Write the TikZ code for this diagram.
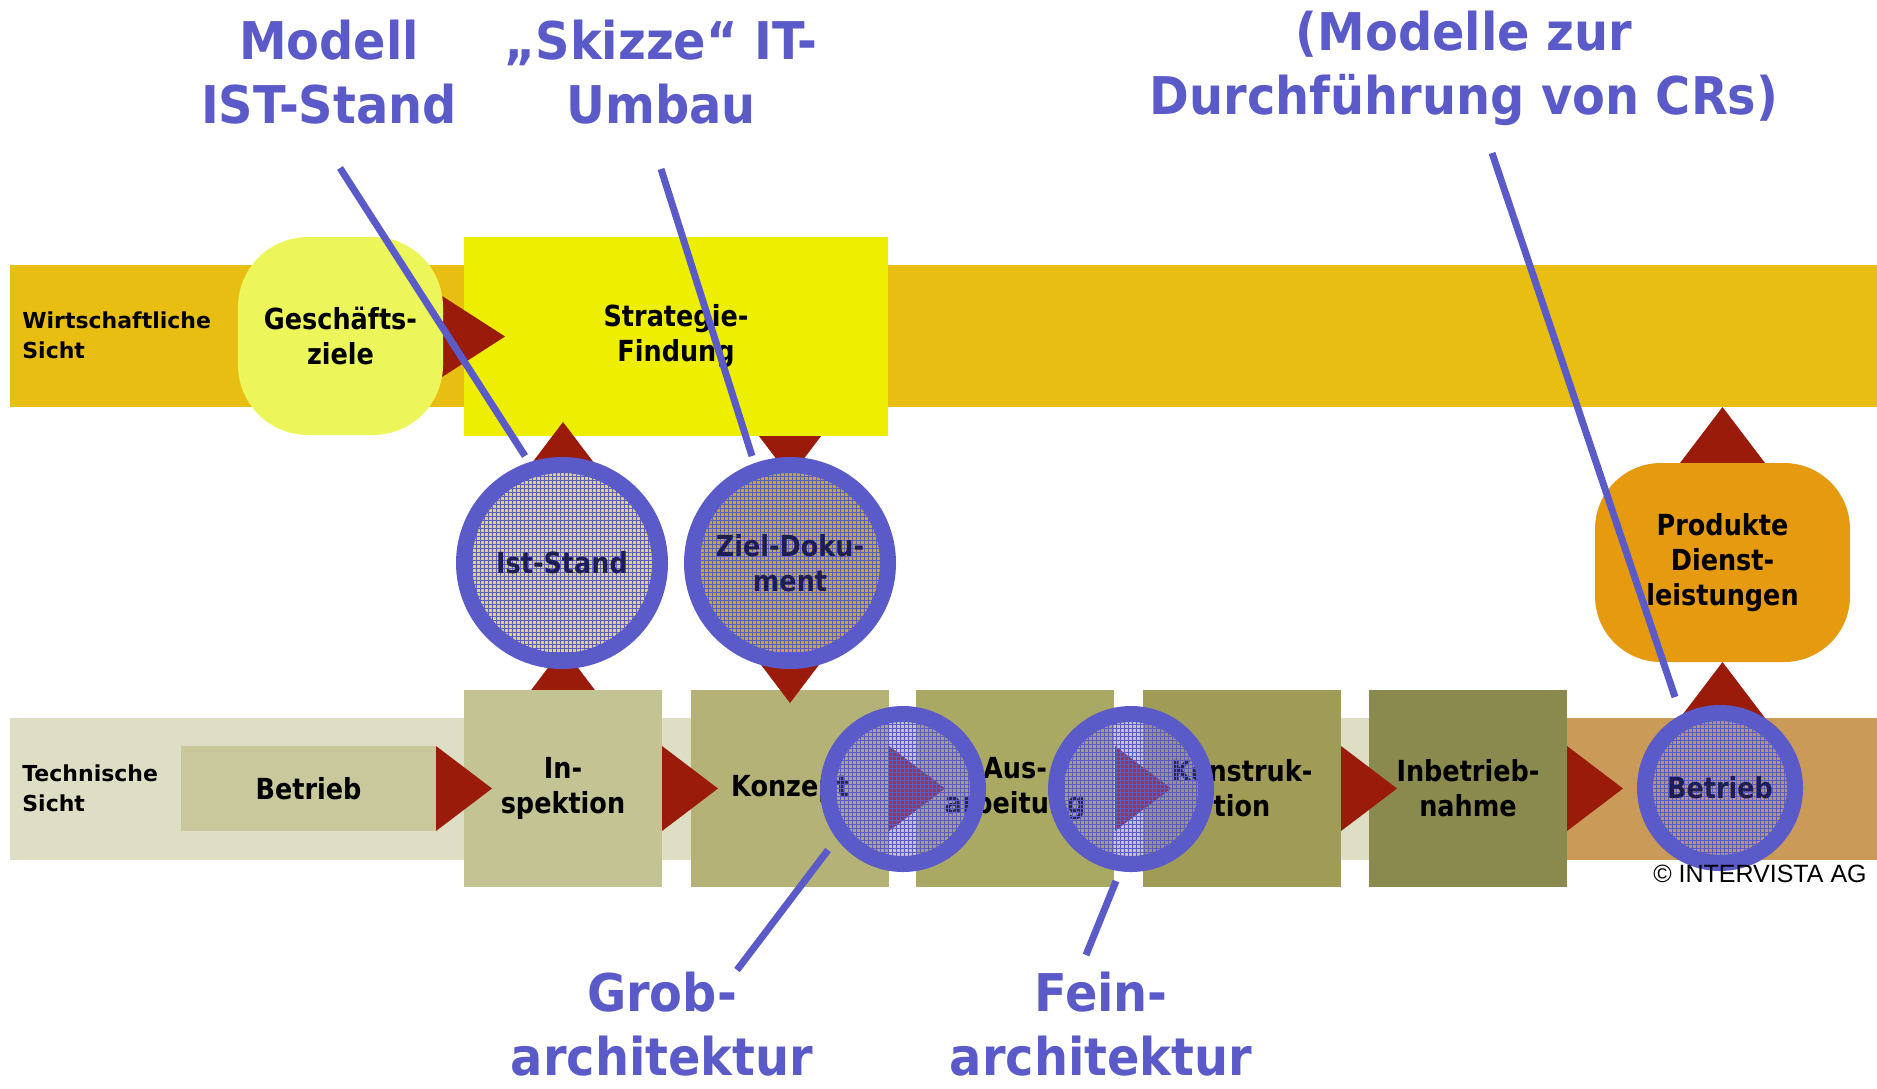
\documentclass[tikz,border=0pt]{standalone}
\usepackage{fontspec}
\setmainfont{DejaVu Sans}[FakeStretch=0.88]
\newfontfamily\sidefam{DejaVu Sans}
\newfontfamily\bigfam{DejaVu Sans}[FakeStretch=0.92]
\newfontfamily\copyfam{Liberation Sans}
\usepackage{xcolor}
\usepackage{tikz}
\usetikzlibrary{patterns.meta}

\definecolor{topband}{RGB}{232,190,18}
\definecolor{botband}{RGB}{222,222,196}
\definecolor{tanband}{RGB}{202,154,88}
\definecolor{zielecol}{RGB}{236,246,90}
\definecolor{stratcol}{RGB}{238,238,0}
\definecolor{betrcol}{RGB}{200,200,156}
\definecolor{inspcol}{RGB}{196,195,148}
\definecolor{konzcol}{RGB}{180,178,119}
\definecolor{auscol}{RGB}{170,169,100}
\definecolor{konstcol}{RGB}{160,156,88}
\definecolor{inbcol}{RGB}{139,138,78}
\definecolor{prodcol}{RGB}{229,154,16}
\definecolor{arrowred}{RGB}{155,27,10}
\definecolor{lensblue}{RGB}{90,90,200}
\definecolor{lensnavy}{RGB}{30,30,85}
\definecolor{iststand}{RGB}{215,215,115}
\definecolor{zieldoc}{RGB}{195,168,50}
\definecolor{lensgray}{RGB}{140,140,175}

\newcommand\stagefont{\bfseries\fontsize{14.5}{17.5}\selectfont}
\newcommand\sidefont{\sidefam\bfseries\fontsize{11}{15}\selectfont}
\newcommand\calloutfont{\bigfam\bfseries\fontsize{26}{32}\selectfont}

\tikzset{
  stage/.style={rectangle, inner sep=0pt, minimum width=99pt, minimum height=98.5pt, align=center, font=\stagefont},
  lens/.style={circle, draw=lensblue, line width=8pt, inner sep=0pt, text=lensnavy, align=center, font=\stagefont,
    preaction={fill=#1},
    preaction={pattern={Hatch[distance=2pt, line width=.35pt]}, pattern color=lensblue, fill opacity=.5}},
  side/.style={anchor=west, inner sep=0pt, align=left, font=\sidefont},
  tri/.style={fill=arrowred},
  callout/.style={draw=lensblue, line width=3.5pt},
  bigblue/.style={text=lensblue, align=center, inner sep=0pt, font=\calloutfont}
}

\begin{document}
\begin{tikzpicture}[x=0.5pt, y=-0.5pt]
    \useasboundingbox (0,0) rectangle (1877,1088);

    % bands
    \fill[topband] (10,265) rectangle (1877,407);
    \fill[botband] (10,718) rectangle (1567,860);
    \fill[tanband] (1567,718) rectangle (1877,860);
    \node[side] (wsicht) at (22,335) {Wirtschaftliche\\Sicht};
    \node[side] (tsicht) at (22,788) {Technische\\Sicht};

    % business row
    \fill[tri] (747.5,421) -- (832.5,421) -- (790,477) -- cycle; % down to Ziel
    \node[stage, fill=stratcol, minimum width=212pt, minimum height=99.5pt] (strategie) at (676,336.5) {Strategie-\\Findung};
    \fill[tri] (439,294) -- (505,336.5) -- (439,379) -- cycle;
    \node[stage, fill=zielecol, rounded corners=35pt, minimum width=102.5pt, minimum height=99pt] (ziele) at (340.5,336) {Geschäfts-\\ziele};
    \fill[tri] (520.5,478) -- (605.5,478) -- (563,422) -- cycle; % up to Strategie
    \fill[tri] (520.5,704) -- (605.5,704) -- (563,648) -- cycle; % up to Ist

    % technical row
    \node[stage, fill=betrcol, minimum width=127.5pt, minimum height=42.5pt] (betrieb) at (308.5,788.5) {Betrieb};
    \node[stage, fill=inspcol] (insp) at (563,788.5) {In-\\spektion};
    \node[stage, fill=konzcol] (konzept) at (790,788.5) {Konzept};
    \node[stage, fill=auscol] (aus) at (1015,788.5) {Aus-\\arbeitung};
    \node[stage, fill=konstcol] (konst) at (1242,788.5) {Konstruk-\\tion};
    \node[stage, fill=inbcol] (inb) at (1468,788.5) {Inbetrieb-\\nahme};
    \foreach \x in {436,662,889,1115,1341,1567}
        \fill[tri] (\x,746) -- ++(56,42.5) -- ++(-56,42.5) -- cycle;
    \fill[tri] (747.5,647) -- (832.5,647) -- (790,703) -- cycle; % down to Konzept

    % products
    \fill[tri] (1680,463) -- (1765,463) -- (1722.5,407) -- cycle;
    \node[stage, fill=prodcol, rounded corners=33pt, minimum width=127.5pt, minimum height=99.5pt] (produkte) at (1722.5,562.5) {Produkte\\Dienst-\\leistungen};
    \fill[tri] (1680,718) -- (1765,718) -- (1722.5,662) -- cycle;

    % lenses
    \node[lens=iststand, minimum size=98pt] (ist) at (562,563) {Ist-Stand};
    \node[lens=zieldoc, minimum size=98pt] (zieldok) at (790,563) {Ziel-Doku-\\ment};
    \node[lens={lensgray, fill opacity=.3}, minimum size=75pt] (grob) at (903,789) {};
    \node[lens={lensgray, fill opacity=.3}, minimum size=75pt] (fein) at (1131,789) {};
    \node[lens={lensgray, fill opacity=.3}, minimum size=75pt] (betrieb2) at (1720,788) {Betrieb};

    \node[anchor=base east, inner sep=0pt, font=\copyfam\fontsize{12.5}{15}\selectfont] (copy) at (1867,882) {© INTERVISTA AG};

    % callouts
    \node[bigblue] (lblist) at (329,72) {Modell\\IST-Stand};
    \node[bigblue] (lblskizze) at (661,72) {„Skizze“ IT-\\Umbau};
    \node[bigblue] (lblcr) at (1464,68) {(Modelle zur\\Durchführung von CRs)};
    \node[bigblue] (lblgrob) at (662,1024) {Grob-\\architektur};
    \node[bigblue] (lblfein) at (1101,1024) {Fein-\\architektur};

    \coordinate (c1) at (340,168);  \coordinate (e1) at (525,456);
    \coordinate (c2) at (661,169);  \coordinate (e2) at (752,456);
    \coordinate (c3) at (1492,153); \coordinate (e3) at (1675,697);
    \coordinate (c4) at (737,970);  \coordinate (e4) at (828,850);
    \coordinate (c5) at (1086,955); \coordinate (e5) at (1116,881);
    \draw[callout] (c1) -- (e1);
    \draw[callout] (c2) -- (e2);
    \draw[callout] (c3) -- (e3);
    \draw[callout] (c4) -- (e4);
    \draw[callout] (c5) -- (e5);
\end{tikzpicture}
\end{document}
